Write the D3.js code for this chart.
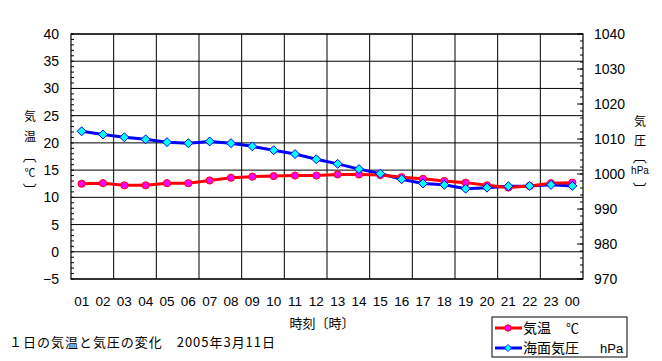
<!DOCTYPE html>
<html><head><meta charset="utf-8">
<script src="https://cdn.jsdelivr.net/npm/d3@7"></script>
<style>
body{margin:0;background:#fff;}
text{font-family:"Liberation Sans","Noto Sans CJK JP",sans-serif;}
.jp{font-family:"Noto Sans CJK JP",sans-serif;}
</style></head>
<body><svg id="c" width="662" height="361"></svg>
<script>
const hours = ["01","02","03","04","05","06","07","08","09","10","11","12","13","14","15","16","17","18","19","20","21","22","23","00"];
const temperature = [12.5,12.6,12.2,12.2,12.6,12.6,13.1,13.6,13.8,13.9,14.0,14.0,14.2,14.2,14.1,13.7,13.4,13.0,12.7,12.2,11.8,12.1,12.6,12.7];
const pressure = [1012.2,1011.3,1010.5,1009.9,1009.1,1008.8,1009.3,1008.8,1007.9,1006.8,1005.7,1004.2,1002.9,1001.4,1000.1,998.5,997.3,996.9,995.8,996.1,996.5,996.6,996.9,996.6];
const leftTicks = [-5,0,5,10,15,20,25,30,35,40];
const rightTicks = [970,980,990,1000,1010,1020,1030,1040];

const svg = d3.select("#c");
const L=71, R=583, T=34, B=279;
const x = d3.scaleBand().domain(hours).range([L,R]);
const yL = d3.scaleLinear().domain([-5,40]).range([B,T]);
const yR = d3.scaleLinear().domain([970,1040]).range([B,T]);

const g = svg.append("g");
g.selectAll(".hg").data(leftTicks).enter().append("line")
  .attr("x1",L).attr("x2",R).attr("y1",d=>yL(d)).attr("y2",d=>yL(d))
  .attr("stroke","#000").attr("stroke-width",1);
g.selectAll(".vg").data(hours.filter((d,i)=>i%2===0 && i>0)).enter().append("line")
  .attr("x1",d=>x(d)).attr("x2",d=>x(d)).attr("y1",T).attr("y2",B)
  .attr("stroke","#000").attr("stroke-width",1);
g.selectAll(".ml").data(d3.range(-5,41,1)).enter().append("line")
  .attr("x1",L).attr("x2",L+3).attr("y1",d=>yL(d)).attr("y2",d=>yL(d)).attr("stroke","#000");
g.selectAll(".mr").data(d3.range(970,1041,2)).enter().append("line")
  .attr("x1",R-3).attr("x2",R).attr("y1",d=>yR(d)).attr("y2",d=>yR(d)).attr("stroke","#000");
g.selectAll(".Mr").data(rightTicks).enter().append("line")
  .attr("x1",R-6).attr("x2",R).attr("y1",d=>yR(d)).attr("y2",d=>yR(d)).attr("stroke","#000");
g.append("rect").attr("x",L).attr("y",T).attr("width",R-L).attr("height",B-T)
  .attr("fill","none").attr("stroke","#000").attr("stroke-width",1.2);

svg.append("g").selectAll("text").data(leftTicks).enter().append("text")
  .attr("x",59).attr("y",d=>yL(d)).attr("dy","0.36em").attr("text-anchor","end")
  .attr("font-size",14).text(d=>d<0?"−"+(-d):d);
svg.append("g").selectAll("text").data(rightTicks).enter().append("text")
  .attr("x",594).attr("y",d=>yR(d)).attr("dy","0.36em").attr("text-anchor","start")
  .attr("font-size",14).text(d=>d);
svg.append("g").selectAll("text").data(hours).enter().append("text")
  .attr("x",d=>x(d)+x.bandwidth()/2).attr("y",301).attr("dy","0.36em").attr("text-anchor","middle")
  .attr("font-size",13.5).text(d=>d);

const cx = d=>x(d)+x.bandwidth()/2;
const tLine = d3.line().x((d,i)=>cx(hours[i])).y(d=>yL(d));
const pLine = d3.line().x((d,i)=>cx(hours[i])).y(d=>yR(d));
svg.append("path").attr("d",pLine(pressure)).attr("fill","none").attr("stroke","#0000ff").attr("stroke-width",3);
svg.append("path").attr("d",tLine(temperature)).attr("fill","none").attr("stroke","#ff0000").attr("stroke-width",3);
svg.append("g").selectAll("circle").data(temperature).enter().append("circle")
  .attr("cx",(d,i)=>cx(hours[i])).attr("cy",d=>yL(d)).attr("r",3.6)
  .attr("fill","#ff00ff").attr("stroke","#ff0000").attr("stroke-width",1);
const diamond = "M0,-4.5L4.5,0L0,4.5L-4.5,0Z";
svg.append("g").selectAll("path").data(pressure).enter().append("path")
  .attr("transform",(d,i)=>`translate(${cx(hours[i])},${yR(d)})`).attr("d",diamond)
  .attr("fill","#00ffff").attr("stroke","#0000ff").attr("stroke-width",1);

svg.append("text").attr("class","jp").attr("x",322).attr("y",323).attr("dy","0.36em")
  .attr("text-anchor","middle").attr("font-size",13).text("時刻〔時〕");

function vchar(xp, yp, ch, rot, fs){
  const t = svg.append("text").attr("class","jp").attr("text-anchor","middle")
    .attr("dy","0.36em").attr("font-size",fs).text(ch);
  t.attr("transform",`translate(${xp},${yp})`+(rot?" rotate(90)":""));
}
vchar(30,117,"気",false,12); vchar(30,137,"温",false,12);
vchar(30,156,"〔",true,14); vchar(30,173,"℃",false,11); vchar(30,190,"〕",true,14);
vchar(640,122,"気",false,12); vchar(640,141,"圧",false,12);
vchar(640,157,"〔",true,14); vchar(640,189,"〕",true,14);
svg.append("text").attr("x",640).attr("y",170).attr("dy","0.36em").attr("text-anchor","middle").attr("font-size",10).text("hPa");

svg.append("text").attr("class","jp").attr("x",9).attr("y",342).attr("dy","0.36em")
  .attr("font-size",13).attr("textLength",266).attr("lengthAdjust","spacing").text("１日の気温と気圧の変化　2005年3月11日");

const lg = svg.append("g");
lg.append("rect").attr("x",492).attr("y",317).attr("width",135).attr("height",40).attr("fill","#fff").attr("stroke","#000");
lg.append("line").attr("x1",495).attr("x2",522).attr("y1",328).attr("y2",328).attr("stroke","#ff0000").attr("stroke-width",3);
lg.append("circle").attr("cx",508).attr("cy",328).attr("r",3.2).attr("fill","#ff00ff").attr("stroke","#ff0000");
lg.append("line").attr("x1",495).attr("x2",522).attr("y1",348).attr("y2",348).attr("stroke","#0000ff").attr("stroke-width",3);
lg.append("path").attr("transform","translate(508,348) scale(0.8)").attr("d",diamond).attr("fill","#00ffff").attr("stroke","#0000ff");
lg.append("text").attr("class","jp").attr("x",523).attr("y",328).attr("dy","0.36em").attr("font-size",14).text("気温");
lg.append("text").attr("class","jp").attr("x",566).attr("y",328).attr("dy","0.36em").attr("font-size",13).text("℃");
lg.append("text").attr("class","jp").attr("x",523).attr("y",348).attr("dy","0.36em").attr("font-size",14).text("海面気圧");
lg.append("text").attr("x",600).attr("y",348).attr("dy","0.36em").attr("font-size",13).text("hPa");
</script></body></html>
